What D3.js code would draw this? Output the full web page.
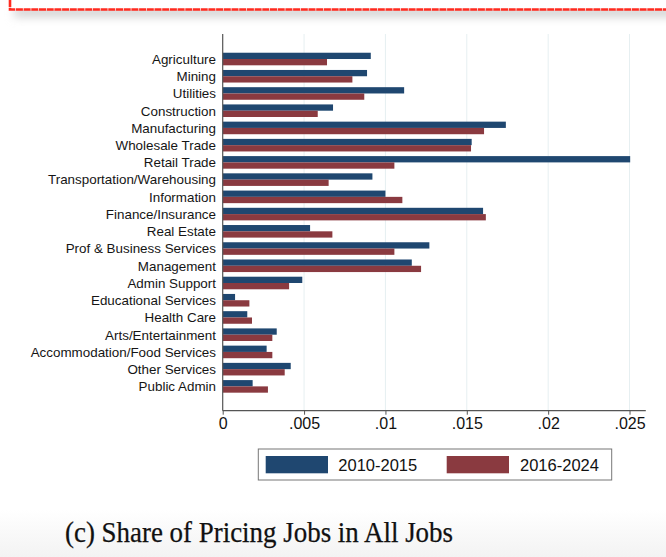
<!DOCTYPE html>
<html>
<head>
<meta charset="utf-8">
<script src="https://cdn.jsdelivr.net/npm/d3@7"></script>
<style>
  html, body { margin: 0; padding: 0; background: #ffffff; }
  svg { display: block; }
</style>
</head>
<body>
<svg id="chart" width="666" height="557"></svg>
<script>
// Industries, top to bottom
const industries = [
  "Agriculture", "Mining", "Utilities", "Construction", "Manufacturing",
  "Wholesale Trade", "Retail Trade", "Transportation/Warehousing", "Information",
  "Finance/Insurance", "Real Estate", "Prof & Business Services", "Management",
  "Admin Support", "Educational Services", "Health Care", "Arts/Entertainment",
  "Accommodation/Food Services", "Other Services", "Public Admin"
];

// Share of pricing jobs in all jobs, by period
const share2010_2015 = [
  0.0091, 0.00887, 0.01115, 0.00678, 0.0174,
  0.0153, 0.02504, 0.0092, 0.0100,
  0.0160, 0.00537, 0.0127, 0.01162,
  0.00489, 0.00076, 0.00151, 0.00332,
  0.0027, 0.00418, 0.00184
];
const share2016_2024 = [
  0.00641, 0.00797, 0.0087, 0.00584, 0.01606,
  0.01526, 0.01055, 0.00651, 0.01104,
  0.01617, 0.00674, 0.01055, 0.01219,
  0.00408, 0.00164, 0.0018, 0.00305,
  0.00305, 0.00381, 0.00278
];

const periods = ["2010-2015", "2016-2024"];
const xTicks = [0, 0.005, 0.01, 0.015, 0.02, 0.025];
const xTickLabels = ["0", ".005", ".01", ".015", ".02", ".025"];
const caption = "(c) Share of Pricing Jobs in All Jobs";

const colors = { "2010-2015": "#1f4770", "2016-2024": "#8a3a40" };

const svg = d3.select("#chart");
const W = 666, H = 557;

// ---- page backdrop: soft grey shading near the bottom ----
const defs = svg.append("defs");
const bottomGrad = defs.append("linearGradient")
  .attr("id", "bottomShade").attr("x1", 0).attr("x2", 0).attr("y1", 0).attr("y2", 1);
bottomGrad.append("stop").attr("offset", "0%").attr("stop-color", "#ffffff");
bottomGrad.append("stop").attr("offset", "100%").attr("stop-color", "#f3f3f3");
svg.append("rect").attr("x", 0).attr("y", 510).attr("width", W).attr("height", H - 510)
  .attr("fill", "url(#bottomShade)");

// ---- red box edge above the figure, with a soft shadow ----
const blur = defs.append("filter").attr("id", "shadowBlur")
  .attr("x", "-10%").attr("y", "-200%").attr("width", "120%").attr("height", "500%");
blur.append("feGaussianBlur").attr("stdDeviation", 5);
svg.append("rect").attr("x", 14).attr("y", 7).attr("width", W + 10).attr("height", 10)
  .attr("fill", "#d2d2d2").attr("filter", "url(#shadowBlur)");
svg.append("rect").attr("x", 0).attr("y", 0).attr("width", W).attr("height", 10)
  .attr("fill", "#ffffff");
svg.append("path")
  .attr("d", `M10,0 V9.5 H${W + 2}`)
  .attr("fill", "none")
  .attr("stroke", "#ff2a1f")
  .attr("stroke-width", 2.6)
  .attr("stroke-dasharray", "7,0.7");

// ---- plot region ----
const plotTop = 34, plotBottom = 410.7;
const x = d3.scaleLinear().domain([0, 0.026]).range([222.7, 645.8]);

const y = d3.scaleBand()
  .domain(industries)
  .range([50.4, 395])
  .paddingInner(0.27)
  .paddingOuter(0.135);

const ySub = d3.scaleBand().domain(periods).range([0, y.bandwidth()]);

// gridlines
svg.append("g")
  .selectAll("line")
  .data(xTicks.filter(d => d > 0))
  .join("line")
  .attr("x1", d => x(d)).attr("x2", d => x(d))
  .attr("y1", plotTop).attr("y2", plotBottom)
  .attr("stroke", "#e6eff1").attr("stroke-width", 1);

// bars
const rows = industries.map((name, i) => ({
  name,
  values: [
    { period: periods[0], value: share2010_2015[i] },
    { period: periods[1], value: share2016_2024[i] }
  ]
}));

svg.append("g")
  .selectAll("g")
  .data(rows)
  .join("g")
  .attr("transform", d => `translate(0,${y(d.name)})`)
  .selectAll("rect")
  .data(d => d.values)
  .join("rect")
  .attr("x", x(0))
  .attr("y", d => ySub(d.period))
  .attr("width", d => x(d.value) - x(0))
  .attr("height", ySub.bandwidth())
  .attr("fill", d => colors[d.period]);

// category labels
svg.append("g")
  .selectAll("text")
  .data(industries)
  .join("text")
  .attr("x", 216)
  .attr("y", d => y(d) + y.bandwidth() / 2)
  .attr("dy", "0.36em")
  .attr("text-anchor", "end")
  .attr("font-family", "Liberation Sans, Arial, sans-serif")
  .attr("font-size", 13.4)
  .attr("fill", "#151515")
  .text(d => d);

// y axis line
svg.append("line")
  .attr("x1", x(0)).attr("x2", x(0))
  .attr("y1", plotTop).attr("y2", plotBottom)
  .attr("stroke", "#555").attr("stroke-width", 1.2);

// x axis
const xAxis = d3.axisBottom(x)
  .tickValues(xTicks)
  .tickFormat((d, i) => xTickLabels[i])
  .tickSize(4)
  .tickPadding(3);

const gx = svg.append("g")
  .attr("transform", `translate(0,${plotBottom})`)
  .call(xAxis);
gx.select(".domain")
  .attr("d", `M${x(0)},0H${x(0.026)}`)
  .attr("stroke", "#555").attr("stroke-width", 1.2);
gx.selectAll(".tick line").attr("stroke", "#555");
gx.selectAll(".tick text")
  .attr("font-family", "Liberation Sans, Arial, sans-serif")
  .attr("font-size", 16)
  .attr("fill", "#111");

// legend
const legend = svg.append("g");
legend.append("rect")
  .attr("x", 258.3).attr("y", 449).attr("width", 353.4).attr("height", 31)
  .attr("fill", "#fff").attr("stroke", "#777").attr("stroke-width", 1);
const legendItems = [
  { period: periods[0], sx: 265.7, tx: 338.3 },
  { period: periods[1], sx: 446.7, tx: 520 }
];
legendItems.forEach(it => {
  legend.append("rect")
    .attr("x", it.sx).attr("y", 456).attr("width", 62.3).attr("height", 17.3)
    .attr("fill", colors[it.period]);
  legend.append("text")
    .attr("x", it.tx).attr("y", 464.8).attr("dy", "0.35em")
    .attr("font-family", "Liberation Sans, Arial, sans-serif")
    .attr("font-size", 16.5)
    .attr("fill", "#111")
    .text(it.period);
});

// caption
svg.append("text")
  .attr("x", 259).attr("y", 542)
  .attr("text-anchor", "middle")
  .attr("font-family", "Liberation Serif, Times New Roman, serif")
  .attr("font-size", 28.5)
  .attr("textLength", 388)
  .attr("lengthAdjust", "spacingAndGlyphs")
  .attr("fill", "#111")
  .attr("stroke", "#111")
  .attr("stroke-width", 0.25)
  .text(caption);
</script>
</body>
</html>
